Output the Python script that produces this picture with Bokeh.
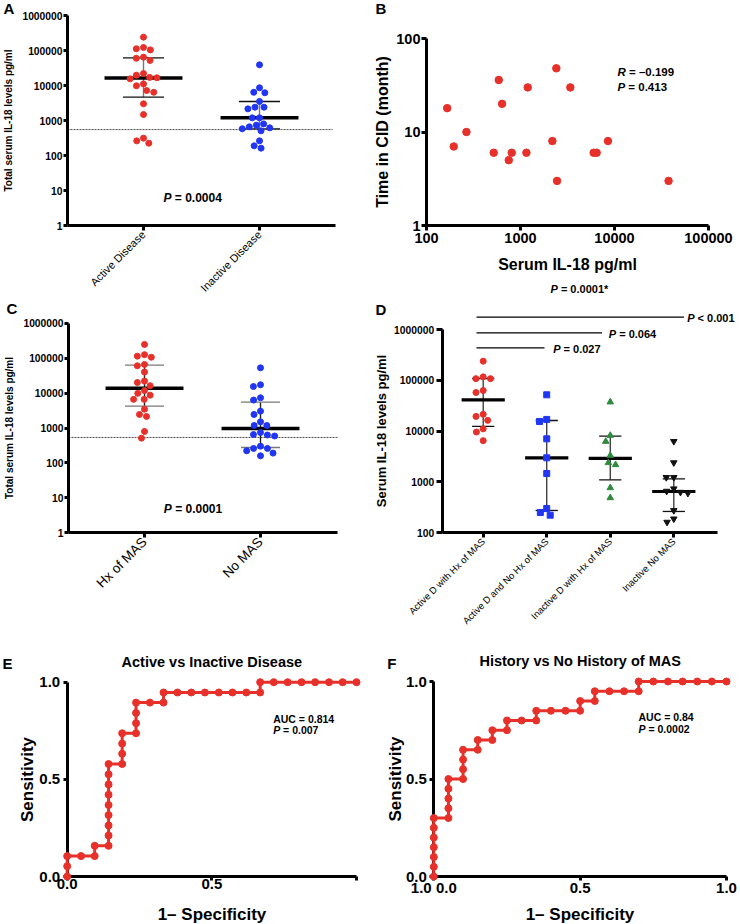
import math
from bokeh.plotting import figure
from bokeh.layouts import row, column
from bokeh.models import Range1d, FixedTicker, NumeralTickFormatter
from bokeh.core.properties import value
from bokeh.embed import file_html
from bokeh.resources import INLINE

FONT = "Liberation Sans"
RED = "#e8302a"
BLUE = "#2136f2"
GREEN = "#2e8b3e"
BLACK = "#111111"

# ---------------- data ----------------
log_ticks = [1, 10, 100, 1000, 10000, 100000, 1000000]

# Panel A
a_groups = ["Active Disease", "Inactive Disease"]
a_active = [240000, 112000, 104000, 122000, 64500, 52000, 60000, 22000, 19700, 16600,
            15500, 17000, 11100, 9800, 7200, 6400, 3000, 1480, 313, 225, 262]
a_inactive = [39000, 8600, 6200, 6400, 3500, 2400, 2150, 2400, 1190, 1190, 800, 660,
              580, 507, 617, 736, 262, 162, 189]
a_median = [16500, 1190]
a_q1 = [4640, 577]
a_q3 = [61700, 3490]
a_cutoff = 550
a_p = "= 0.0004"

# Panel B
b_il18 = [166, 195, 266, 587, 637, 519, 750, 807, 1194, 1156, 2405, 2183, 2447, 3388,
          6000, 6460, 8520, 37600]
b_cid = [18, 7, 10, 36, 20, 6, 5, 6, 30, 6, 48, 8, 3, 30, 6, 6, 8, 3]
b_xticks = [100, 1000, 10000, 100000]
b_yticks = [1, 10, 100]
b_r = "= \u20130.199"
b_p = "= 0.413"

# Panel C
c_groups = ["Hx of MAS", "No MAS"]
c_hx = [246000, 114000, 106000, 126000, 60500, 66000, 40000, 20000, 22000, 16200, 11800,
        8700, 9800, 6600, 6600, 3460, 2440, 2140, 795, 513]
c_no = [52700, 15400, 17300, 7330, 6300, 3040, 2440, 1500, 1180, 1180, 650, 590, 630, 740,
        302, 260, 222, 191, 260, 160]
c_median = [13800, 970]
c_q1 = [4230, 277]
c_q3 = [63000, 5500]
c_cutoff = 537
c_p = "= 0.0001"

# Panel D
d_groups = ["Active D with Hx of MAS", "Active D and No Hx of MAS",
            "Inactive D with Hx of MAS", "Inactive No MAS"]
d_g0 = [238000, 117000, 108000, 108000, 63000, 57500, 21400, 19500, 16300, 11100, 9600, 6500]
d_g1 = [51900, 15500, 17000, 7060, 2990, 1470, 300, 251, 222]
d_g2 = [37400, 8220, 6270, 3320, 2180, 2390, 768, 488]
d_g3 = [6300, 2400, 1230, 1230, 660, 600, 630, 735, 275, 162, 188]
d_median = [41400, 2990, 2900, 650]
d_q1 = [12400, 275, 1100, 263]
d_q3 = [108700, 16200, 8000, 1150]
d_yticks = [100, 1000, 10000, 100000, 1000000]
d_sig_targets = [3, 2, 1]
d_sig_labels = ["< 0.001", "= 0.064", "= 0.027"]
d_overall = "= 0.0001*"

# Panel E
e_title = "Active vs Inactive Disease"
e_fpr = [0, 0, 0, 0.048, 0.095, 0.095, 0.143, 0.143, 0.143, 0.143, 0.143, 0.143, 0.143,
         0.143, 0.143, 0.190, 0.190, 0.190, 0.190, 0.238, 0.238, 0.238, 0.238, 0.286, 0.333,
         0.333, 0.381, 0.429, 0.476, 0.524, 0.571, 0.619, 0.667, 0.667, 0.714, 0.762, 0.810,
         0.857, 0.905, 0.952, 1.0]
e_tpr = [0, 0.053, 0.105, 0.105, 0.105, 0.158, 0.158, 0.211, 0.263, 0.316, 0.368, 0.421,
         0.474, 0.526, 0.579, 0.579, 0.632, 0.684, 0.737, 0.737, 0.789, 0.842, 0.895, 0.895,
         0.895, 0.947, 0.947, 0.947, 0.947, 0.947, 0.947, 0.947, 0.947, 1.0, 1.0, 1.0, 1.0,
         1.0, 1.0, 1.0, 1.0]
e_auc = "AUC = 0.814"
e_p = "= 0.007"

# Panel F
f_title = "History vs No History of MAS"
f_fpr = [0, 0, 0, 0, 0, 0, 0, 0.05, 0.05, 0.05, 0.05, 0.05, 0.1, 0.1, 0.1, 0.1, 0.15, 0.15,
         0.2, 0.2, 0.25, 0.25, 0.3, 0.35, 0.35, 0.4, 0.45, 0.5, 0.5, 0.55, 0.55, 0.6, 0.65,
         0.7, 0.7, 0.75, 0.8, 0.85, 0.9, 0.95, 1.0]
f_tpr = [0, 0.05, 0.1, 0.15, 0.2, 0.25, 0.3, 0.3, 0.35, 0.4, 0.45, 0.5, 0.5, 0.55, 0.6, 0.65,
         0.65, 0.7, 0.7, 0.75, 0.75, 0.8, 0.8, 0.8, 0.85, 0.85, 0.85, 0.85, 0.9, 0.9, 0.95,
         0.95, 0.95, 0.95, 1.0, 1.0, 1.0, 1.0, 1.0, 1.0, 1.0]
f_auc = "AUC = 0.84"
f_p = "= 0.0002"
roc_ticks = [0, 0.5, 1.0]


# ---------------- helpers ----------------
class Fr:
    """Maps pixel positions inside a figure to data values (frame = whole figure)."""
    def __init__(self, w, h, xp, xv, yp, yv, xlog=False, ylog=False):
        self.w, self.h, self.xlog, self.ylog = w, h, xlog, ylog
        tx = math.log10 if xlog else (lambda v: v)
        ty = math.log10 if ylog else (lambda v: v)
        self.kx = (tx(xv[1]) - tx(xv[0])) / (xp[1] - xp[0])
        self.bx = tx(xv[0]) - xp[0] * self.kx
        self.ky = (ty(yv[1]) - ty(yv[0])) / (yp[1] - yp[0])
        self.by = ty(yv[0]) - yp[0] * self.ky

    def x(self, px):
        v = self.bx + px * self.kx
        return 10 ** v if self.xlog else v

    def y(self, py):
        v = self.by + py * self.ky
        return 10 ** v if self.ylog else v

    def fig(self):
        p = figure(width=self.w, height=self.h,
                   x_range=Range1d(self.x(0), self.x(self.w)),
                   y_range=Range1d(self.y(self.h), self.y(0)),
                   x_axis_type="log" if self.xlog else "linear",
                   y_axis_type="log" if self.ylog else "linear",
                   output_backend="svg", toolbar_location=None)
        p.min_border = 0
        p.min_border_left = 0
        p.min_border_right = 0
        p.min_border_top = 0
        p.min_border_bottom = 0
        p.outline_line_color = None
        p.xgrid.visible = False
        p.ygrid.visible = False
        return p


def style_axis(ax, lw=3, tick_out=5, size=10, style="bold", standoff=2,
               lab_size=10, lab_standoff=5, orient=None):
    ax.axis_line_width = lw
    ax.axis_line_color = "black"
    ax.major_tick_line_width = lw
    ax.major_tick_line_color = "black"
    ax.major_tick_out = tick_out
    ax.major_tick_in = 0
    ax.minor_tick_line_color = None
    ax.major_label_text_font = FONT
    ax.major_label_text_font_size = f"{size}px"
    ax.major_label_text_font_style = style
    ax.major_label_text_color = "black"
    ax.major_label_standoff = standoff
    ax.axis_label_text_font = FONT
    ax.axis_label_text_font_style = "bold"
    ax.axis_label_text_font_size = f"{lab_size}px"
    ax.axis_label_text_color = "black"
    ax.axis_label_standoff = lab_standoff
    if orient is not None:
        ax.major_label_orientation = orient


W_LEAD = {"P": 0.667, "R": 0.722}
W_SPACE = 0.278


def rich(p, fr, px, py, lead, rest, size, lead_style="bold italic"):
    x = fr.x(px)
    y = fr.y(py)
    p.text(x=[x], y=[y], text=[lead], text_font=value(FONT), text_font_size=f"{size}px",
           text_font_style=lead_style, text_baseline="middle", text_align="left",
           text_color="black")
    off = (W_LEAD.get(lead, 0.65) + W_SPACE) * size
    p.text(x=[x], y=[y], text=[rest], x_offset=off, text_font=value(FONT),
           text_font_size=f"{size}px", text_font_style="bold", text_baseline="middle",
           text_align="left", text_color="black")


def plain(p, fr, px, py, txt, size, align="left", style="bold"):
    p.text(x=[fr.x(px)], y=[fr.y(py)], text=[txt], text_font=value(FONT),
           text_font_size=f"{size}px", text_font_style=style, text_baseline="middle",
           text_align=align, text_color="black")


def swarm(vals, px_per_decade, d):
    ys = [math.log10(v) * px_per_decade for v in vals]
    order = sorted(range(len(vals)), key=lambda i: -ys[i])
    placed = []
    offs = [0.0] * len(vals)
    for i in order:
        cands = [0.0]
        for (xj, yj) in placed:
            dy = abs(ys[i] - yj)
            if dy < d:
                dx = math.sqrt(d * d - dy * dy)
                cands += [xj + dx, xj - dx]
        cands.sort(key=lambda c: (abs(c), c))
        for c in cands:
            if all((c - xj) ** 2 + (ys[i] - yj) ** 2 >= d * d - 1e-6 for xj, yj in placed):
                offs[i] = c
                placed.append((c, ys[i]))
                break
    return offs


def dot_group(p, fr, g, vals, color, marker="circle", size=6, d=7.3):
    offs = swarm(vals, 1.0 / abs(fr.ky), d)
    xs = [g + o * fr.kx for o in offs]
    p.scatter(xs, vals, marker=marker, size=size, fill_color=color, line_color=color)


def med_iqr(p, fr, groups, med, q1, q3, hw_med, hw_cap, med_w=3.5,
            vcolor="#666666", ccolor="#222222", lw=1.4):
    gx = list(range(len(groups)))
    p.segment(x0=gx, x1=gx, y0=q1, y1=q3, line_color=vcolor, line_width=lw)
    p.segment(x0=[g - hw_cap for g in gx], x1=[g + hw_cap for g in gx], y0=q3, y1=q3,
              line_color=ccolor, line_width=lw)
    p.segment(x0=[g - hw_cap for g in gx], x1=[g + hw_cap for g in gx], y0=q1, y1=q1,
              line_color=ccolor, line_width=lw)
    p.segment(x0=[g - hw_med for g in gx], x1=[g + hw_med for g in gx], y0=med, y1=med,
              line_color="black", line_width=med_w)


def dot_panel(fr, groups, ax_left_px, ax_right_px, lab_size, lab_text, cat_size):
    p = fr.fig()
    ax = p.xaxis[0]
    ay = p.yaxis[0]
    xl, xr = fr.x(ax_left_px), fr.x(ax_right_px)
    ax.fixed_location = log_ticks[0]
    ay.fixed_location = xl
    ax.bounds = (xl, xr)
    ay.bounds = (log_ticks[0], log_ticks[-1])
    ax.ticker = FixedTicker(ticks=list(range(len(groups))))
    ax.major_label_overrides = {i: g for i, g in enumerate(groups)}
    ay.ticker = FixedTicker(ticks=log_ticks)
    ay.formatter = NumeralTickFormatter(format="0")
    style_axis(ax, tick_out=5, size=cat_size, style="normal", standoff=2,
               orient=math.pi / 4)
    style_axis(ay, tick_out=4, size=10.3, standoff=1, lab_size=lab_size, lab_standoff=5)
    ay.axis_label = lab_text
    return p, xl, xr


# ---------------- Panel A ----------------
fa = Fr(370, 300, (143, 259), (0, 1), (15, 225), (1e6, 1), ylog=True)
pa, xl, xr = dot_panel(fa, a_groups, 67, 335, 10, "Total serum IL-18 levels pg/ml", 11)
pa.line(x=[xl, fa.x(332)], y=[a_cutoff, a_cutoff], line_color="#333333", line_width=0.9,
        line_dash="2 1")
med_iqr(pa, fa, a_groups, a_median, a_q1, a_q3, 0.336, 0.177, vcolor="#777777",
        ccolor="#111111")
dot_group(pa, fa, 0, a_active, RED)
dot_group(pa, fa, 1, a_inactive, BLUE)
rich(pa, fa, 163, 197, "P", a_p, 12)
plain(pa, fa, 3, 7.5, "A", 15)

# ---------------- Panel C ----------------
fc = Fr(370, 300, (144, 260), (0, 1), (22.7, 232.3), (1e6, 1), ylog=True)
pc, xl, xr = dot_panel(fc, c_groups, 68, 337, 10, "Total serum IL-18 levels pg/ml", 13.5)
pc.line(x=[xl, fc.x(337)], y=[c_cutoff, c_cutoff], line_color="#333333", line_width=0.9,
        line_dash="2 1")
med_iqr(pc, fc, c_groups, c_median, c_q1, c_q3, 0.336, 0.168, vcolor="#222222",
        ccolor="#777777")
dot_group(pc, fc, 0, c_hx, RED)
dot_group(pc, fc, 1, c_no, BLUE)
rich(pc, fc, 163.3, 208.3, "P", c_p, 12)
plain(pc, fc, 6, 8, "C", 15)

# ---------------- Panel B ----------------
fb = Fr(370, 278, (56, 338), (100, 1e5), (38, 225), (100, 1), xlog=True, ylog=True)
pb = fb.fig()
bx = pb.xaxis[0]
by = pb.yaxis[0]
bx.fixed_location = b_yticks[0]
by.fixed_location = b_xticks[0]
bx.bounds = (b_xticks[0], b_xticks[-1])
by.bounds = (b_yticks[0], b_yticks[-1])
bx.ticker = FixedTicker(ticks=b_xticks)
by.ticker = FixedTicker(ticks=b_yticks)
bx.formatter = NumeralTickFormatter(format="0")
by.formatter = NumeralTickFormatter(format="0")
style_axis(bx, tick_out=5, size=14.5, standoff=2, lab_size=16, lab_standoff=10)
style_axis(by, tick_out=5, size=14.5, standoff=1, lab_size=16, lab_standoff=2)
bx.axis_label = "Serum IL-18 pg/ml"
by.axis_label = "Time in CID (month)"
pb.scatter(b_il18, b_cid, size=7.5, fill_color=RED, line_color=RED)
rich(pb, fb, 247, 71, "R", b_r, 11.5)
rich(pb, fb, 247, 86, "P", b_p, 11.5)
plain(pb, fb, 5, 7.5, "B", 15)

# ---------------- Panel D ----------------
fd = Fr(370, 362, (112.7, 303.3), (0, 3), (51, 254.3), (1e6, 100), ylog=True)
pd = fd.fig()
dx = pd.xaxis[0]
dy = pd.yaxis[0]
dxl, dxr = fd.x(71.7), fd.x(346.7)
dx.fixed_location = d_yticks[0]
dy.fixed_location = dxl
dx.bounds = (dxl, dxr)
dy.bounds = (d_yticks[0], d_yticks[-1])
dx.ticker = FixedTicker(ticks=list(range(len(d_groups))))
dx.major_label_overrides = {i: g for i, g in enumerate(d_groups)}
dy.ticker = FixedTicker(ticks=d_yticks)
dy.formatter = NumeralTickFormatter(format="0")
style_axis(dx, tick_out=5, size=9.5, style="normal", standoff=2, orient=math.pi / 4)
style_axis(dy, tick_out=6, size=10.3, standoff=2, lab_size=13, lab_standoff=2)
dy.axis_label = "Serum IL-18 levels pg/ml"
med_iqr(pd, fd, d_groups, d_median, d_q1, d_q3, 0.34, 0.175, med_w=3.2,
        vcolor="#333333", ccolor="#111111", lw=1.3)
dot_group(pd, fd, 0, d_g0, RED, "circle", 6, 7.5)
dot_group(pd, fd, 1, d_g1, BLUE, "square", 6, 7.5)
dot_group(pd, fd, 2, d_g2, GREEN, "triangle", 6.5, 7.5)
dot_group(pd, fd, 3, d_g3, BLACK, "inverted_triangle", 6.5, 7.5)
# significance brackets
sig_y_px = [38.7, 54.3, 69.3]
sig_end_off = [0.16, -0.13, -0.035]
sig_text_px = [316.7, 238.3, 182.7]
for t, lab, ypx, eo, tpx in zip(d_sig_targets, d_sig_labels, sig_y_px, sig_end_off,
                                sig_text_px):
    yv = fd.y(ypx)
    pd.segment(x0=[-0.106], x1=[t + eo], y0=[yv], y1=[yv], line_color="black",
               line_width=1.2)
    rich(pd, fd, tpx, ypx + 1, "P", lab, 11)
rich(pd, fd, 180, 10.3, "P", d_overall, 11)
plain(pd, fd, 5, 31, "D", 15)


# ---------------- Panels E, F ----------------
def roc_panel(fr, fpr, tpr, title, title_py, auc, pval, text_px, text_py, overrides,
              ylab_standoff, xlab_standoff):
    p = fr.fig()
    ax = p.xaxis[0]
    ay = p.yaxis[0]
    ax.fixed_location = roc_ticks[0]
    ay.fixed_location = roc_ticks[0]
    ax.bounds = (roc_ticks[0], roc_ticks[-1])
    ay.bounds = (roc_ticks[0], roc_ticks[-1])
    ax.ticker = FixedTicker(ticks=roc_ticks)
    ay.ticker = FixedTicker(ticks=roc_ticks)
    ax.formatter = NumeralTickFormatter(format="0.0")
    ay.formatter = NumeralTickFormatter(format="0.0")
    ax.major_label_overrides = overrides
    style_axis(ax, tick_out=4, size=15, standoff=-2, lab_size=17, lab_standoff=xlab_standoff)
    style_axis(ay, tick_out=4, size=15, standoff=3, lab_size=17, lab_standoff=ylab_standoff)
    ax.axis_label = "1\u2013 Specificity"
    ay.axis_label = "Sensitivity"
    ax.level = "underlay"
    ay.level = "underlay"
    p.line(fpr, tpr, line_color=RED, line_width=3)
    p.scatter(fpr, tpr, size=7, fill_color=RED, line_color=RED)
    p.text(x=[(roc_ticks[0] + roc_ticks[-1]) / 2], y=[fr.y(title_py)], text=[title],
           text_font=value(FONT), text_font_size="14.5px", text_font_style="bold",
           text_align="center", text_baseline="middle", text_color="black")
    plain(p, fr, text_px, text_py, auc, 10.5)
    rich(p, fr, text_px, text_py + 11.5, "P", pval, 10.5)
    return p


fe = Fr(370, 323, (66.7, 356), (0, 1), (81.7, 276), (1, 0))
pe = roc_panel(fe, e_fpr, e_tpr, e_title, 61.7, e_auc, e_p, 272.7, 118.3, {1: ""}, 0, 13)
plain(pe, fe, 2, 62.5, "E", 15)

ff = Fr(370, 283, (63.3, 356), (0, 1), (41, 236), (1, 0))
pf = roc_panel(ff, f_fpr, f_tpr, f_title, 20.8, f_auc, f_p, 268, 76.7, {0: "1.0 0.0"}, -2, 6)
plain(pf, ff, 16.7, 23, "F", 15)

layout = row(column(pa, pc, pe), column(pb, pd, pf))
open("out.html", "w").write(file_html(layout, INLINE))
